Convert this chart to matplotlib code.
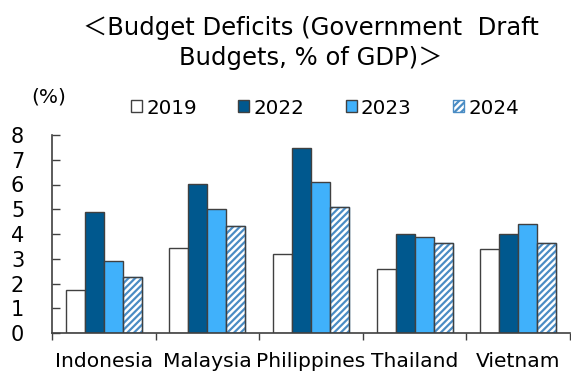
import matplotlib
matplotlib.use("Agg")
import matplotlib.pyplot as plt
import numpy as np

plt.rcParams['font.family'] = ['DejaVu Sans', 'Noto Sans CJK JP']
plt.rcParams['hatch.linewidth'] = 1.6

countries = ["Indonesia", "Malaysia", "Philippines", "Thailand", "Vietnam"]
years = ["2019", "2022", "2023", "2024"]
v2019 = [1.75, 3.43, 3.19, 2.57, 3.41]
v2022 = [4.87, 6.02, 7.46, 4.02, 4.02]
v2023 = [2.89, 5.01, 6.09, 3.87, 4.40]
v2024 = [2.28, 4.33, 5.08, 3.64, 3.64]
yticks = [0, 1, 2, 3, 4, 5, 6, 7, 8]

series = [v2019, v2022, v2023, v2024]
faces = ["white", "#00588e", "#40b1fb", "white"]
hatches = [None, None, None, "/////"]

fig = plt.figure(figsize=(5.71, 3.71), dpi=100)
ax = fig.add_axes([52/571, 1-333/371, (570-52)/571, (333-135)/371])

x = np.arange(len(countries))
w = 0.183
for i, (vals, fc, h) in enumerate(zip(series, faces, hatches)):
    off = (i - 1.5) * w
    bars = ax.bar(x + off, vals, w, color=fc, edgecolor="#404040", linewidth=1.0,
                  hatch=h, label=years[i], zorder=2)
    if h:
        for b in bars:
            b.set_edgecolor("#4a8cc4")
        ax.bar(x + off, vals, w, facecolor="none", edgecolor="#404040", linewidth=1.0, zorder=3)

ax.set_xlim(-0.5, len(countries) - 0.5)
ax.set_ylim(0, 8)
ax.set_yticks(yticks)
ax.set_yticklabels([str(t) for t in yticks], fontsize=15)
ax.set_xticks(np.arange(len(countries) + 1) - 0.5)
ax.set_xticklabels([])
ax.set_xticks(x, minor=True)
ax.set_xticklabels(countries, minor=True, fontsize=14.6)
ax.tick_params(axis='x', which='major', direction='out', length=5, width=1, color="#404040")
ax.tick_params(axis='x', which='minor', length=0, pad=14)
ax.tick_params(axis='y', direction='in', length=6, width=1, color="#404040", pad=20)
for s in ["top", "right"]:
    ax.spines[s].set_visible(False)
for s in ["left", "bottom"]:
    ax.spines[s].set_color("#404040")
    ax.spines[s].set_linewidth(1.2)

fig.text(311/571, 1-28/371, "＜Budget Deficits (Government  Draft", ha="center", va="center", fontsize=17.5)
fig.text(311/571, 1-58/371, "Budgets, % of GDP)＞", ha="center", va="center", fontsize=17.5)
fig.text(49/571, 1-97/371, "(%)", ha="center", va="center", fontsize=14.5)

handles, labels = ax.get_legend_handles_labels()
leg = fig.legend(handles[:4], labels[:4], loc="center", bbox_to_anchor=(325/571, 1-108/371),
                 ncol=4, frameon=False, fontsize=14.3, handlelength=0.55, handleheight=0.55,
                 handletextpad=0.2, columnspacing=2.1, borderpad=0)

fig.savefig("out.png", dpi=100)
